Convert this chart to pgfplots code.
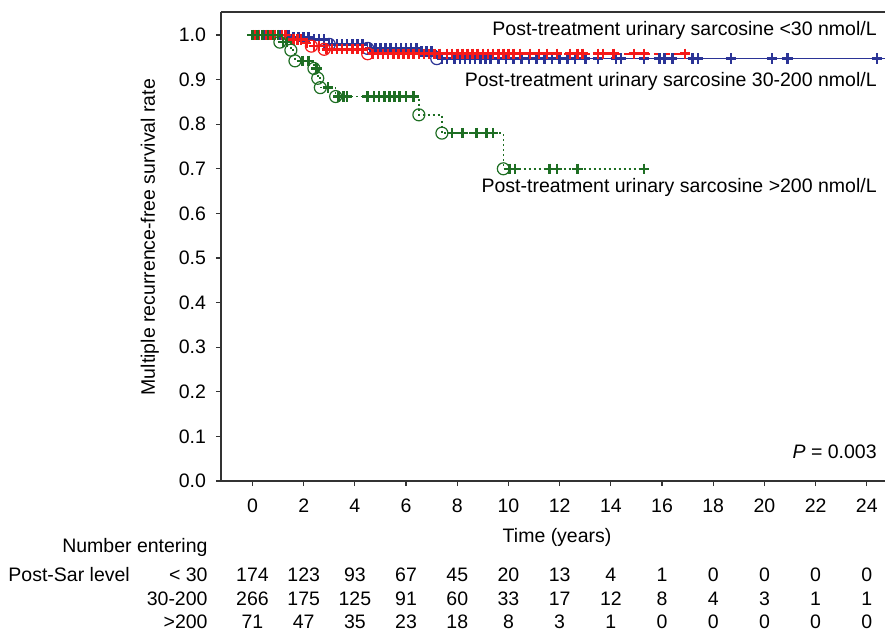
\documentclass[border=0pt]{standalone}
\usepackage{pgfplots}
\usepackage{pgfplotstable}
\pgfplotsset{compat=1.18}
\usepackage{fontspec}
\setmainfont{Liberation Sans}

\definecolor{kmblue}{RGB}{43,52,150}
\definecolor{kmred}{RGB}{245,25,25}
\definecolor{kmgreen}{RGB}{30,110,35}

% number at risk, one table per row of the table under the plot
\pgfplotstableread{
x  n
0  174
2  123
4  93
6  67
8  45
10 20
12 13
14 4
16 1
18 0
20 0
22 0
24 0
}\risklow
\pgfplotstableread{
x  n
0  266
2  175
4  125
6  91
8  60
10 33
12 17
14 12
16 8
18 4
20 3
22 1
24 1
}\riskmid
\pgfplotstableread{
x  n
0  71
2  47
4  35
6  23
8  18
10 8
12 3
14 1
16 0
18 0
20 0
22 0
24 0
}\riskhigh

\begin{document}
\fontsize{9.75}{11.5}\selectfont
\begin{tikzpicture}
\useasboundingbox (-110.5pt,-75pt) rectangle (332pt,240.5pt);
\begin{axis}[
    scale only axis,
    width=332pt, height=234.5pt,
    xmin=-1.23, xmax=24.71,
    ymin=0, ymax=1.0516,
    axis x line*=bottom,
    axis y line*=left,
    axis line style={black!80, line width=0.6pt},
    tick style={black!80, line width=0.6pt},
    tick align=outside,
    major tick length=2.6pt,
    xtick={0,2,...,24},
    ytick={0,0.1,...,1.0},
    xticklabel style={yshift=-3pt},
    yticklabel style={xshift=-1.5pt, /pgf/number format/fixed,
        /pgf/number format/fixed zerofill,
        /pgf/number format/precision=1},
    /pgf/number format/assume math mode=true,
    clip=false,
]
\draw[black!80, line width=0.6pt] (rel axis cs:0,1) -- (rel axis cs:1,1);

% 30-200 nmol/L
\addplot[const plot, kmblue, line width=0.8pt] coordinates {
(0,1) (1.5,0.995) (2.3,0.99) (3.0,0.979) (4.5,0.97) (6.5,0.963) (7.2,0.947) (24.71,0.947)};
\addplot[only marks, kmblue, mark=+, mark size=2.6pt, mark options={line width=1.3pt}] coordinates {
(0.2,1) (0.5,1) (0.8,1) (1.1,1) (1.4,1)
(1.6,0.995) (1.8,0.995) (2.0,0.995) (2.2,0.995)
(2.4,0.99) (2.6,0.99) (2.8,0.99)
(3.1,0.979) (3.3,0.979) (3.5,0.979) (3.7,0.979) (3.9,0.979) (4.1,0.979) (4.3,0.979)
(4.6,0.97) (4.8,0.97) (5.0,0.97) (5.2,0.97) (5.4,0.97) (5.6,0.97) (5.8,0.97) (6.0,0.97) (6.2,0.97) (6.4,0.97)
(6.6,0.963) (6.8,0.963) (7.0,0.963)
(7.4,0.947) (7.6,0.947) (7.9,0.947) (8.1,0.947) (8.3,0.947) (8.5,0.947) (8.7,0.947) (8.9,0.947)
(9.1,0.947) (9.3,0.947) (9.6,0.947) (9.9,0.947) (10.2,0.947) (10.5,0.947) (10.8,0.947) (11.1,0.947)
(11.4,0.947) (11.7,0.947) (12.0,0.947) (12.3,0.947) (12.6,0.947) (13.0,0.947) (13.5,0.947) (14.2,0.947)
(14.4,0.947) (15.3,0.947) (15.9,0.947) (16.1,0.947) (16.4,0.947) (17.2,0.947) (17.4,0.947) (18.7,0.947)
(20.3,0.947) (20.9,0.947) (24.4,0.947)};
\addplot[only marks, kmblue, mark=o, mark size=3pt, mark options={line width=0.6pt}] coordinates {
(3.0,0.979) (4.5,0.97) (7.2,0.947)};

% <30 nmol/L
\addplot[const plot, kmred, line width=0.8pt, dash pattern=on 3pt off 2pt] coordinates {
(0,1) (1.5,0.99) (2.0,0.982) (2.3,0.975) (2.8,0.968) (4.5,0.958) (16.9,0.958)};
\addplot[only marks, kmred, mark=+, mark size=2.6pt, mark options={line width=1.3pt}] coordinates {
(0,1) (0.1,1) (0.25,1) (0.4,1) (0.55,1) (0.7,1) (0.85,1) (1.0,1) (1.15,1) (1.3,1)
(1.6,0.99) (1.75,0.99) (1.9,0.99)
(2.1,0.982)
(2.4,0.975) (2.6,0.975)
(2.9,0.968) (3.1,0.968) (3.3,0.968) (3.5,0.968) (3.7,0.968) (3.9,0.968) (4.1,0.968) (4.3,0.968)
(4.7,0.958) (4.9,0.958) (5.1,0.958) (5.3,0.958) (5.5,0.958) (5.7,0.958) (5.9,0.958) (6.1,0.958)
(6.3,0.958) (6.5,0.958) (6.7,0.958) (6.9,0.958) (7.1,0.958) (7.3,0.958) (7.6,0.958) (7.8,0.958)
(8.0,0.958) (8.2,0.958) (8.4,0.958) (8.6,0.958) (8.8,0.958) (9.0,0.958) (9.2,0.958) (9.4,0.958)
(9.6,0.958) (9.8,0.958) (10.0,0.958) (10.2,0.958) (10.45,0.958) (10.84,0.958) (11.2,0.958) (11.5,0.958)
(11.9,0.958) (12.4,0.958) (12.7,0.958) (12.9,0.958) (13.5,0.958) (13.7,0.958) (14.1,0.958) (14.9,0.958)
(15.3,0.958) (16.9,0.958)};
\addplot[only marks, kmred, mark=o, mark size=3pt, mark options={line width=0.6pt}] coordinates {
(2.3,0.975) (2.8,0.968) (4.5,0.958)};

% >200 nmol/L
\addplot[const plot, kmgreen, line width=0.8pt, dash pattern=on 1pt off 1.5pt] coordinates {
(0,1) (1.07,0.984) (1.5,0.966) (1.66,0.942) (2.4,0.925) (2.55,0.903) (2.65,0.882)
(3.25,0.862) (6.5,0.821) (7.4,0.78) (9.8,0.70) (15.3,0.70)};
\addplot[only marks, kmgreen, mark=+, mark size=2.6pt, mark options={line width=1.3pt}] coordinates {
(0,1) (0.2,1) (0.4,1) (0.6,1) (0.8,1) (1.0,1)
(1.2,0.984) (1.35,0.984)
(1.95,0.942) (2.2,0.942)
(2.5,0.925)
(2.95,0.882)
(3.35,0.862) (3.55,0.862) (3.7,0.862) (4.5,0.862) (4.75,0.862) (4.95,0.862) (5.15,0.862)
(5.35,0.862) (5.55,0.862) (5.75,0.862) (6.0,0.862) (6.3,0.862)
(7.8,0.78) (8.2,0.78) (8.75,0.78) (9.15,0.78) (9.4,0.78)
(10.05,0.70) (10.25,0.70) (11.6,0.70) (11.9,0.70) (12.7,0.70) (15.3,0.70)};
\addplot[only marks, kmgreen, mark=o, mark size=3pt, mark options={line width=0.6pt}] coordinates {
(1.07,0.984) (1.5,0.966) (1.66,0.942) (2.4,0.925) (2.55,0.903) (2.65,0.882)
(3.25,0.862) (6.5,0.821) (7.4,0.78) (9.8,0.70)};

% number at risk rows
\addplot[only marks, mark=none, nodes near coords, point meta=explicit symbolic,
    nodes near coords style={anchor=center, inner sep=0pt, black}]
    table[x=x, y expr=-0.2108, meta=n] {\risklow};
\addplot[only marks, mark=none, nodes near coords, point meta=explicit symbolic,
    nodes near coords style={anchor=center, inner sep=0pt, black}]
    table[x=x, y expr=-0.2646, meta=n] {\riskmid};
\addplot[only marks, mark=none, nodes near coords, point meta=explicit symbolic,
    nodes near coords style={anchor=center, inner sep=0pt, black}]
    table[x=x, y expr=-0.3161, meta=n] {\riskhigh};

\node[anchor=east, inner sep=0pt] at (axis cs:-1.74,-0.150) {Number entering};
\node[anchor=west, inner sep=0pt] at (axis cs:-9.55,-0.2108) {Post-Sar level};
\node[anchor=east, inner sep=0pt] at (axis cs:-1.74,-0.2108) {< 30};
\node[anchor=east, inner sep=0pt] at (axis cs:-1.74,-0.2646) {30-200};
\node[anchor=east, inner sep=0pt] at (axis cs:-1.74,-0.3161) {>200};
\node[inner sep=0pt] at (axis cs:11.9,-0.1256) {Time (years)};
\node[rotate=90, inner sep=0pt] at (rel axis cs:-0.107,0.52) {Multiple recurrence-free survival rate};

\node[anchor=east, inner sep=0pt] at (axis cs:24.4,1.011) {Post-treatment urinary sarcosine <30 nmol/L};
\node[anchor=east, inner sep=0pt] at (axis cs:24.4,0.895) {Post-treatment urinary sarcosine 30-200 nmol/L};
\node[anchor=east, inner sep=0pt] at (axis cs:24.4,0.659) {Post-treatment urinary sarcosine >200 nmol/L};
\node[anchor=east, inner sep=0pt] at (axis cs:24.4,0.065) {\textit{P} = 0.003};
\end{axis}
\end{tikzpicture}
\end{document}
